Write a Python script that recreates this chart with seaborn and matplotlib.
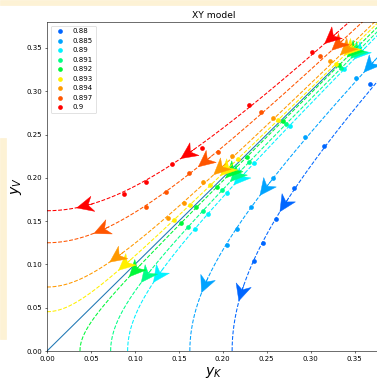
import numpy as np
import matplotlib
matplotlib.use('Agg')
import matplotlib.pyplot as plt
import seaborn as sns
from matplotlib.patches import Rectangle

# couplings (legend labels) and their colours
temps = ['0.88', '0.885', '0.89', '0.891', '0.892', '0.893', '0.894', '0.897', '0.9']
colors = ['#0066ff', '#00a3ff', '#00f2ff', '#00ff85', '#00f838',
          '#fff000', '#ff9900', '#ff5500', '#ff0000']

# where each flow line meets an axis
intercepts = [0.2106, 0.1625, 0.0917, 0.0724, 0.0375, 0.0454, 0.0739, 0.125, 0.162]
on_y_axis = [False, False, False, False, False, True, True, True, True]

# measured points (y_K, y_V)
dots_x = [
    [0.236, 0.2455, 0.260, 0.281, 0.315, 0.368],
    [0.2045, 0.216, 0.232, 0.257, 0.294, 0.352],
    [0.168, 0.183, 0.2045, 0.236, 0.276, 0.338],
    [0.160, 0.177, 0.199, 0.230, 0.272, 0.335],
    [0.152, 0.170, 0.193, 0.227, 0.268, 0.332],
    [0.144, 0.1625, 0.186, 0.217, 0.263, 0.329],
    [0.1375, 0.1557, 0.178, 0.211, 0.2568, 0.3216],
    [0.1125, 0.135, 0.161, 0.194, 0.243, 0.311],
    [0.0875, 0.1125, 0.142, 0.176, 0.2295, 0.301],
]
dots_y = [
    [0.104, 0.1247, 0.152, 0.188, 0.2367, 0.308],
    [0.122, 0.141, 0.166, 0.200, 0.247, 0.315],
    [0.1408, 0.1584, 0.1828, 0.2175, 0.2603, 0.3253],
    [0.1427, 0.1615, 0.1854, 0.2183, 0.2622, 0.3271],
    [0.1473, 0.1658, 0.1893, 0.2239, 0.2654, 0.3299],
    [0.151, 0.1687, 0.1915, 0.2217, 0.2668, 0.332],
    [0.1536, 0.1709, 0.1952, 0.2252, 0.269, 0.3349],
    [0.166, 0.184, 0.206, 0.230, 0.276, 0.341],
    [0.181, 0.195, 0.216, 0.234, 0.284, 0.345],
]

# y_K positions of the flow arrows on each line
arrows_x = [
    [0.221, 0.270],
    [0.1795, 0.248, 0.367],
    [0.1265, 0.219, 0.356],
    [0.113, 0.215, 0.352],
    [0.100, 0.210, 0.348],
    [0.0886, 0.204, 0.345],
    [0.079, 0.1966, 0.3405],
    [0.062, 0.1795, 0.331],
    [0.043, 0.160, 0.323],
]

sep_x = [0.0, 0.33]
sep_y = [0.0, 0.33]

DPI = 50.4
fig = plt.figure(figsize=(377 / DPI, 378 / DPI), dpi=DPI)
ax = fig.add_axes([47 / 377, 27 / 378, 334 / 377, 329 / 378])

ax.plot(sep_x, sep_y, color='#1f77b4', lw=1.5)

t = np.linspace(0, 3.5, 500)
for k in range(len(temps)):
    c = colors[k]
    a = intercepts[k]
    if on_y_axis[k]:
        lx, ly = a * np.sinh(t), a * np.cosh(t)
    else:
        lx, ly = a * np.cosh(t), a * np.sinh(t)
    sns.lineplot(x=lx, y=ly, sort=False, estimator=None, color=c,
                 ls='--', lw=1.5, ax=ax)

for k in range(len(temps)):
    sns.scatterplot(x=dots_x[k], y=dots_y[k], color=colors[k], s=45,
                    linewidth=0, label=temps[k], ax=ax, zorder=3)

hl = 0.019
for k in range(len(temps)):
    a = intercepts[k]
    for xa in arrows_x[k]:
        if on_y_axis[k]:
            ya = np.sqrt(xa ** 2 + a ** 2)
        else:
            ya = np.sqrt(xa ** 2 - a ** 2)
        d = np.array([-ya, -xa]) / np.hypot(xa, ya)
        x0 = xa - d[0] * hl / 2
        y0 = ya - d[1] * hl / 2
        ax.arrow(x0, y0, d[0] * hl, d[1] * hl, width=0, head_width=0.018,
                 head_length=hl, overhang=0.3, length_includes_head=True,
                 fc=colors[k], ec=colors[k], lw=0.6, zorder=4)

ax.set_xlim(0, 0.38)
ax.set_ylim(0, 0.38)
ax.set_xticks(np.arange(0, 0.36, 0.05))
ax.set_yticks(np.arange(0, 0.36, 0.05))
ax.set_title('XY model', fontsize=13)
ax.set_xlabel('$y_K$', fontsize=20)
ax.set_ylabel('$y_V$', fontsize=20)
ax.legend(loc='upper left')

# background strips of the page around the figure
fig.patches.append(Rectangle((0, 1 - 5 / 378), 1, 5 / 378, transform=fig.transFigure,
                             color='#fdf2d5', zorder=-1))
fig.patches.append(Rectangle((0, 39 / 378), 6 / 377, 201 / 378, transform=fig.transFigure,
                             color='#fdf2d5', zorder=-1))

fig.savefig('out.png', dpi=DPI)
